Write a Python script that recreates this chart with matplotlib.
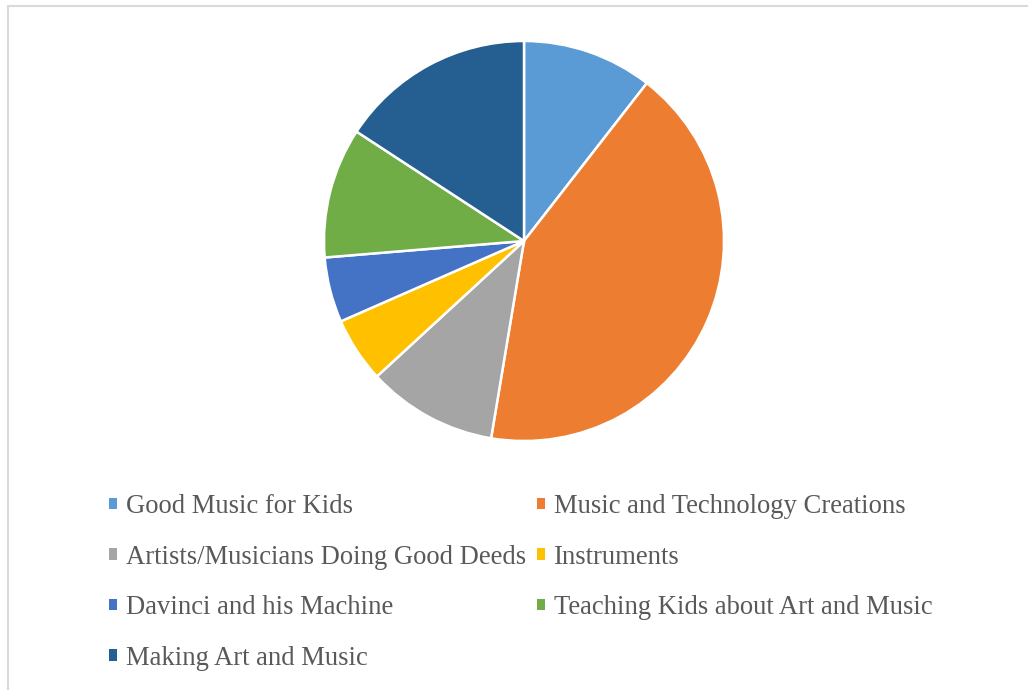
import matplotlib.pyplot as plt
from matplotlib.patches import Patch, Rectangle

# Topic counts, clockwise from 12 o'clock
topics = ["Good Music for Kids", "Music and Technology Creations",
          "Artists/Musicians Doing Good Deeds", "Instruments",
          "Davinci and his Machine", "Teaching Kids about Art and Music",
          "Making Art and Music"]
counts = [2, 8, 2, 1, 1, 2, 3]
colors = ["#5B9BD5", "#ED7D31", "#A5A5A5", "#FFC000",
          "#4472C4", "#70AD47", "#255E91"]

plt.rcParams["font.family"] = ["Liberation Serif", "DejaVu Serif"]

W, H = 1028, 690
fig = plt.figure(figsize=(W / 100, H / 100), dpi=100)

# Light grey chart-area frame (runs off the right and bottom edges)
fig.patches.append(Rectangle((7.5 / W, -0.05), 1, 1.05 - 6.5 / H, transform=fig.transFigure,
                             fill=False, edgecolor="#D9D9D9", linewidth=1.5))

ax = fig.add_axes([324 / W, 1 - 441 / H, 400 / W, 400 / H])
ax.pie(counts, colors=colors, startangle=90, counterclock=False,
       wedgeprops=dict(edgecolor="white", linewidth=1.8))
ax.set_xlim(-1.0, 1.0)
ax.set_ylim(-1.0, 1.0)
ax.set_aspect("equal")

# Legend fills row by row: reorder for matplotlib's column-wise filling
handles = [Patch(facecolor=c, edgecolor="none") for c in colors]
order = [0, 2, 4, 6, 1, 3, 5]
leg = fig.legend([handles[i] for i in order], [topics[i] for i in order],
                 ncol=2, loc="upper left", bbox_to_anchor=(109 / W, 1 - 494 / H),
                 frameon=False, fontsize=19.2, handlelength=0.3, handleheight=0.3,
                 handletextpad=0.34, columnspacing=0.4, labelspacing=0.96,
                 borderpad=0, borderaxespad=0)
for t in leg.get_texts():
    t.set_color("#595959")

fig.savefig("out.png", dpi=100)
